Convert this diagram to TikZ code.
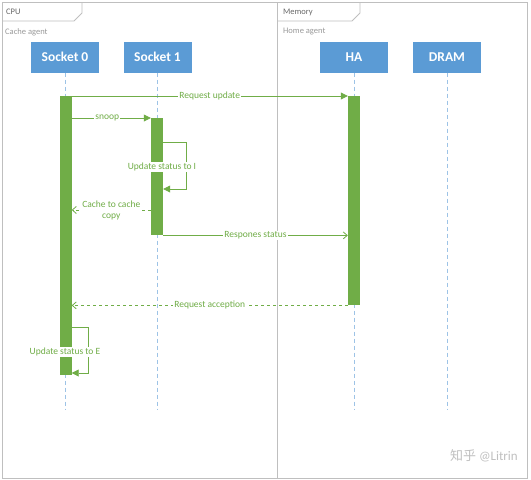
\documentclass[tikz,border=0pt]{standalone}
\usepackage{fontspec}
\setmainfont{Carlito}
\newfontfamily\cjk{Noto Sans CJK SC}
\usetikzlibrary{arrows.meta,positioning}
\usetikzlibrary{calc}
\definecolor{headblue}{HTML}{5B9BD5}
\definecolor{lifeblue}{HTML}{9DC3E6}
\definecolor{actgreen}{HTML}{70AD47}
\definecolor{framegray}{HTML}{BFBFBF}
\definecolor{textgray}{HTML}{808080}

\begin{document}
\begin{tikzpicture}[x=1pt,y=-1pt,
  head/.style={fill=headblue,text=white,font=\bfseries\fontsize{13.5}{15}\selectfont,minimum width=68pt,minimum height=31pt,inner sep=0pt},
  life/.style={lifeblue,line width=0.8pt,dash pattern=on 4pt off 3pt},
  bar/.style={fill=actgreen,draw=none,minimum width=12pt,inner sep=0pt,anchor=north},
  msg/.style={actgreen,line width=0.8pt},
  lbl/.style={fill=white,text=actgreen,font=\fontsize{9.5}{11}\selectfont,inner sep=1pt},
  fill tip/.style={-{Triangle[length=7pt,width=7pt]}},
  open tip/.style={-{Straight Barb[length=4pt,width=7pt]}},
  frametext/.style={font=\fontsize{8.5}{10}\selectfont,anchor=west,inner sep=0pt}]
\useasboundingbox (0,0) rectangle (531,480);
\def\lifeend{410}
\coordinate (cpuTL) at (2,2);
\coordinate (cpuBR) at (277,478);
\coordinate (memBR) at (527,478);
\draw[framegray,line width=0.8pt] (cpuTL) rectangle (cpuBR);
\draw[framegray,line width=0.8pt] (cpuBR |- cpuTL) rectangle (memBR);
\draw[framegray,line width=0.8pt] (2,21) -- (74,21) -- (82,13) -- (82,2);
\draw[framegray,line width=0.8pt] (277,21) -- (352,21) -- (360,13) -- (360,2);
\node[frametext,text=textgray!80!black] (cpu) at (6,12) {CPU};
\node[frametext,text=textgray!80!black] (mem) at (283,12) {Memory};
\node[frametext,text=framegray!80!black] (cacheag) at (5,32) {Cache agent};
\node[frametext,text=framegray!80!black] (homeag) at (283,32) {Home agent};

\node[head] (s0) at (65,57) {Socket 0};
\node[head] (s1) at (157.5,57) {Socket 1};
\node[head] (ha) at (354,57) {HA};
\node[head] (dram) at (447,57) {DRAM};
\foreach \n in {s0,s1,ha,dram} {
  \draw[life] (\n.south) -- (\n.south |- 0,\lifeend);
}

\node[bar,minimum height=279pt] (s0act) at (65.5,96) {};
\node[bar,minimum height=117pt] (s1act) at (157,118) {};
\node[bar,minimum height=209pt] (haact) at (354,96) {};

\draw[msg,fill tip] (s0act.north east) -- (haact.north west) node[lbl,midway] {Request update};
\draw[msg,fill tip] (s0act.east |- s1act.north) -- (s1act.north west) node[lbl,pos=0.45] {snoop};
\coordinate (loopI) at ($(s1act.north east)+(0,24)$);
\draw[msg,fill tip] (loopI) -- ++(23,0) -- ++(0,47) -- ++(-23,0);
\node[lbl] (updI) at (162,167) {Update status to I};
\draw[msg,dashed,open tip] (s1act.west |- 0,210) -- (s0act.east |- 0,210) node[lbl,midway,align=center] {Cache to cache\\copy};
\draw[msg,open tip] (s1act.south east) -- (haact.west |- s1act.south) node[lbl,midway] {Respones status};
\draw[msg,dashed,open tip] (haact.south west) -- (s0act.east |- haact.south) node[lbl,midway] {Request acception};
\coordinate (loopE) at (s0act.east |- 0,327);
\draw[msg,fill tip] (loopE) -- ++(17,0) -- ++(0,46) -- ++(-17,0);
\node[lbl] (updE) at (65,352) {Update status to E};

\node[font=\fontsize{13}{15}\selectfont,text=framegray,anchor=east,inner sep=0pt] (mark) at (518,456) {{\cjk 知乎} @Litrin};
\end{tikzpicture}
\end{document}
